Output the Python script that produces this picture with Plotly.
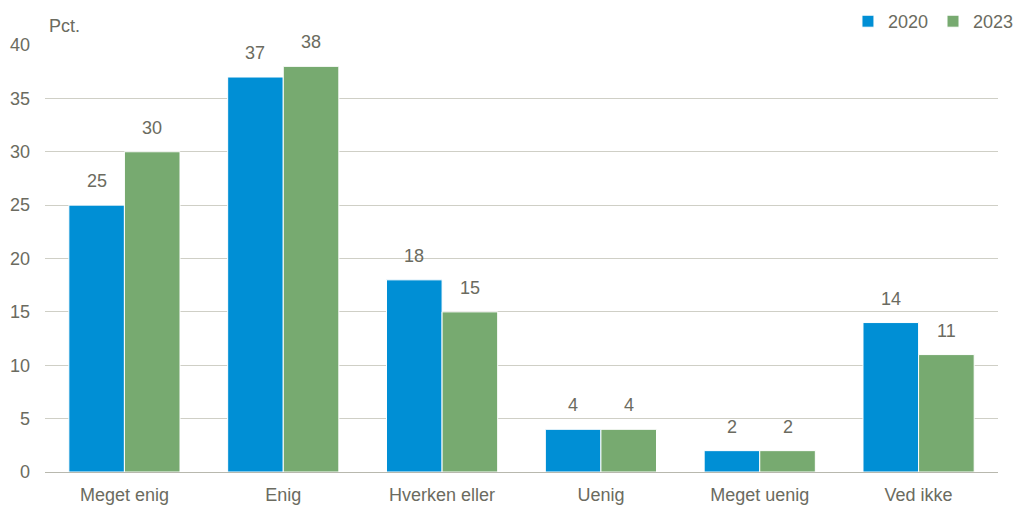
import plotly.graph_objects as go

categories = ["Meget enig", "Enig", "Hverken eller", "Uenig", "Meget uenig", "Ved ikke"]
values_2020 = [25, 37, 18, 4, 2, 14]
values_2023 = [30, 38, 15, 4, 2, 11]
y_ticks = [0, 5, 10, 15, 20, 25, 30, 35, 40]

TEXT = "#6b6b60"
GRID = "#cfcfc6"
FONT = "Liberation Sans, Arial, sans-serif"
SIZE = 18

W, H = 1020, 509
M = dict(l=45, r=22, t=45, b=37, autoexpand=False)
BARGAP = 0.30

series = [("2020", values_2020, "#008fd5"), ("2023", values_2023, "#77aa70")]

fig = go.Figure()
for name, vals, color in series:
    fig.add_trace(go.Bar(
        name=name, x=categories, y=vals,
        marker=dict(color=color, line=dict(color="white", width=1)),
        hoverinfo="x+y",
    ))

# value labels above each bar, offset horizontally to the bar centre
cat_px = (W - M["l"] - M["r"]) / len(categories)
bar_px = cat_px * (1 - BARGAP) / len(series)
annotations = []
for i, (name, vals, color) in enumerate(series):
    dx = (i - (len(series) - 1) / 2) * bar_px
    for cat, v in zip(categories, vals):
        annotations.append(dict(
            x=cat, y=v, xref="x", yref="y", text=str(v), showarrow=False,
            xshift=dx, yshift=24, xanchor="center", yanchor="middle",
            font=dict(size=SIZE, color=TEXT, family=FONT),
        ))
annotations.append(dict(
    text="Pct.", xref="paper", yref="paper", x=0.002, y=1, yshift=19,
    xanchor="left", yanchor="middle", showarrow=False,
    font=dict(size=SIZE, color=TEXT, family=FONT),
))

fig.update_layout(
    width=W, height=H, margin=M,
    paper_bgcolor="white", plot_bgcolor="white",
    barmode="group", bargap=BARGAP, bargroupgap=0,
    font=dict(family=FONT, size=SIZE, color=TEXT),
    showlegend=True,
    legend=dict(orientation="h", x=1.022, xanchor="right", y=1.055, yanchor="middle",
                font=dict(size=SIZE, color=TEXT, family=FONT),
                itemwidth=30, traceorder="normal", bgcolor="rgba(0,0,0,0)"),
    annotations=annotations,
)
fig.update_xaxes(showline=True, linecolor="#b8b8ae", linewidth=1, ticks="",
                 ticklabelstandoff=6, automargin=False,
                 tickfont=dict(size=SIZE, color=TEXT, family=FONT))
fig.update_yaxes(range=[0, 40], tickvals=y_ticks, showgrid=True, gridcolor=GRID,
                 gridwidth=1, zeroline=False, ticks="", ticklabelstandoff=14,
                 automargin=False, tickfont=dict(size=SIZE, color=TEXT, family=FONT))

fig.write_html("out.html")
